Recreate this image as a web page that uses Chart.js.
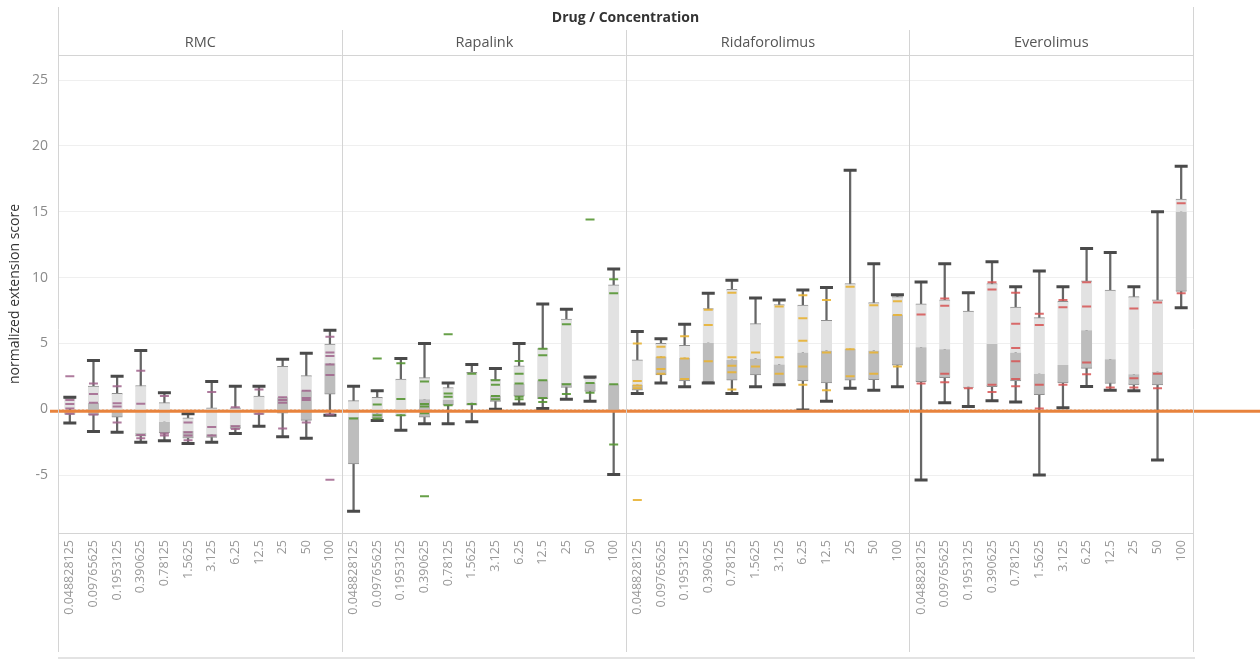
<!DOCTYPE html>
<html>
<head>
<meta charset="utf-8">
<script src="https://cdn.jsdelivr.net/npm/chart.js@4.4.1/dist/chart.umd.min.js"></script>
<style>
  html, body { margin: 0; padding: 0; background: #ffffff; }
  #wrap { width: 1260px; height: 660px; position: relative; }
</style>
</head>
<body>
<div id="wrap"><canvas id="chart" width="1260" height="660"></canvas></div>
<script>
// ---- categories -------------------------------------------------------------
const DRUGS = ['RMC', 'Rapalink', 'Ridaforolimus', 'Everolimus'];
const CONCENTRATIONS = ['0.048828125', '0.09765625', '0.1953125', '0.390625', '0.78125',
  '1.5625', '3.125', '6.25', '12.5', '25', '50', '100'];
const DRUG_COLORS = ['rgba(160,100,140,0.85)', 'rgba(86,150,52,0.9)',
  'rgba(232,178,52,0.9)', 'rgba(214,84,84,0.85)'];
const Y_TICKS = [-5, 0, 5, 10, 15, 20, 25];
const REFERENCE_LINE = -0.15;

// ---- box statistics per drug (whisker low, Q1, median, Q3, whisker high) ---
const RMC_LOW    = [-1.05, -1.7, -1.75, -2.5, -2.4, -2.6, -2.5, -1.85, -1.3, -2.1, -2.2, -0.45];
const RMC_Q1     = [-0.4, -0.45, -0.6, -2.05, -1.8, -2.2, -2.15, -1.45, -0.4, -0.3, -0.85, 1.15];
const RMC_MEDIAN = [0.0, 0.5, -0.05, -1.8, -0.95, -1.65, -1.9, -1.2, -0.25, 0.9, 1.45, 3.5];
const RMC_Q3     = [0.85, 1.75, 1.2, 1.8, 0.5, -0.65, 0.1, 0.1, 1.0, 3.25, 2.55, 4.95];
const RMC_HIGH   = [0.9, 3.7, 2.5, 4.45, 1.25, -0.35, 2.1, 1.75, 1.75, 3.8, 4.25, 6.0];
const RMC_POINTS = [[2.5, 0.7, 0.4, 0.05, -0.35], [1.95, 1.15, 0.5, -0.4], [1.75, 0.45, 0.2, -1.0],
  [2.93, 0.42, -1.95, -2.2], [1.0, -1.85, -2.0], [-1.0, -1.75, -2.0, -2.35], [1.3, -1.35, -2.0],
  [0.15, -1.3, -1.5], [1.5, -0.35], [0.9, 0.7, 0.5, -1.47], [1.4, 0.85, 0.7, -1.0],
  [5.5, 4.3, 4.05, 3.4, 2.6, -0.4, -5.35]];

const RAPALINK_LOW    = [-7.75, -0.85, -1.6, -1.1, -1.1, -0.95, 0.0, 0.4, 0.05, 0.75, 0.6, -4.95];
const RAPALINK_Q1     = [-4.15, -0.7, -0.5, -0.6, 0.3, 0.3, 0.6, 1.0, 0.8, 1.65, 1.35, -0.15];
const RAPALINK_MEDIAN = [-0.6, -0.3, -0.4, 0.75, 0.7, 0.5, 1.05, 1.95, 2.2, 2.0, 2.0, 1.9];
const RAPALINK_Q3     = [0.65, 0.9, 2.28, 2.4, 1.65, 2.8, 2.25, 3.3, 4.6, 6.85, 2.35, 9.45];
const RAPALINK_HIGH   = [1.75, 1.4, 3.85, 5.0, 2.0, 3.4, 3.1, 5.0, 8.0, 7.6, 2.45, 10.65];
const RAPALINK_POINTS = [[-0.7], [3.85, 0.35, -0.45, -0.7], [3.5, 0.78, -0.45],
  [2.1, 0.4, 0.2, -0.3, -6.6], [5.7, 1.2, 0.95, 0.3], [2.7, 0.4], [2.2, 1.85, 1.0, 0.75],
  [3.67, 2.7, 1.95, 0.95, 0.75], [4.6, 4.1, 2.2, 0.85, 0.55], [6.45, 1.9, 1.16],
  [14.4, 2.0, 1.26], [9.87, 8.8, 1.9, -2.67]];

const RIDAFOROLIMUS_LOW    = [1.2, 2.0, 1.7, 2.0, 1.2, 1.7, 1.85, -0.05, 0.6, 1.6, 1.45, 1.7];
const RIDAFOROLIMUS_Q1     = [1.45, 2.6, 2.15, 2.1, 2.2, 2.6, 1.9, 2.15, 2.0, 2.2, 2.25, 3.35];
const RIDAFOROLIMUS_MEDIAN = [1.85, 4.0, 3.9, 5.05, 3.75, 3.85, 3.4, 4.3, 4.45, 4.6, 4.45, 7.2];
const RIDAFOROLIMUS_Q3     = [3.75, 5.0, 4.85, 7.65, 9.1, 6.5, 7.95, 7.9, 6.75, 9.55, 8.1, 8.55];
const RIDAFOROLIMUS_HIGH   = [5.9, 5.35, 6.45, 8.8, 9.8, 8.45, 8.3, 9.05, 9.25, 18.15, 11.05, 8.7];
const RIDAFOROLIMUS_POINTS = [[5.0, 2.15, 1.8, 1.6, -6.9], [4.75, 3.95, 3.05, 2.7], [5.55, 3.85, 2.3],
  [7.55, 6.4, 3.65], [8.85, 3.95, 3.3, 2.8, 1.5], [4.3, 3.25], [7.8, 3.95, 2.7],
  [8.65, 6.9, 5.2, 3.25, 1.85], [8.3, 4.3, 1.45], [9.3, 4.55, 2.5], [7.9, 4.3, 2.7],
  [8.2, 7.15, 3.25]];

const EVEROLIMUS_LOW    = [-5.37, 0.5, 0.2, 0.65, 0.55, -5.0, 0.12, 1.72, 1.45, 1.4, -3.85, 7.7];
const EVEROLIMUS_Q1     = [2.1, 2.4, 1.65, 1.72, 2.15, 1.1, 2.0, 3.1, 1.95, 1.85, 1.85, 8.95];
const EVEROLIMUS_MEDIAN = [4.7, 4.55, 1.7, 4.95, 4.3, 2.7, 3.35, 6.0, 3.8, 2.65, 2.85, 15.0];
const EVEROLIMUS_Q3     = [8.0, 8.3, 7.45, 9.55, 7.75, 6.95, 8.2, 9.75, 9.05, 8.55, 8.3, 15.95];
const EVEROLIMUS_HIGH   = [9.67, 11.05, 8.85, 11.2, 9.3, 10.5, 9.3, 12.2, 11.9, 9.3, 15.0, 18.45];
const EVEROLIMUS_POINTS = [[7.2, 1.95], [8.4, 7.85, 2.7, 2.05], [1.6], [9.65, 9.1, 1.85, 1.3],
  [8.85, 6.5, 4.65, 3.65, 2.3, 1.75], [7.25, 6.4, 1.85, 0.05], [8.3, 7.75, 1.85],
  [9.65, 7.8, 3.55, 2.65], [1.65], [7.65, 2.35, 1.65], [8.1, 2.7, 1.6], [15.65, 8.8]];

// ---- flatten the four drug panels onto one category axis ---------------------
const LABELS = DRUGS.flatMap(() => CONCENTRATIONS);
const LOW    = [].concat(RMC_LOW, RAPALINK_LOW, RIDAFOROLIMUS_LOW, EVEROLIMUS_LOW);
const Q1     = [].concat(RMC_Q1, RAPALINK_Q1, RIDAFOROLIMUS_Q1, EVEROLIMUS_Q1);
const MEDIAN = [].concat(RMC_MEDIAN, RAPALINK_MEDIAN, RIDAFOROLIMUS_MEDIAN, EVEROLIMUS_MEDIAN);
const Q3     = [].concat(RMC_Q3, RAPALINK_Q3, RIDAFOROLIMUS_Q3, EVEROLIMUS_Q3);
const HIGH   = [].concat(RMC_HIGH, RAPALINK_HIGH, RIDAFOROLIMUS_HIGH, EVEROLIMUS_HIGH);
const POINTS = [].concat(RMC_POINTS, RAPALINK_POINTS, RIDAFOROLIMUS_POINTS, EVEROLIMUS_POINTS);
const PER_PANEL = CONCENTRATIONS.length;

const FONT = '"Open Sans", "DejaVu Sans", sans-serif';
const panelColor = (ctx) => DRUG_COLORS[Math.floor(ctx.dataIndex / PER_PANEL)];

const datasets = [];
// whisker stems
datasets.push({
  type: 'bar', data: LOW.map((v, i) => [v, HIGH[i]]),
  backgroundColor: '#666666', barThickness: 1.6, grouped: false, order: 6
});
// lower half of the box (Q1 to median)
datasets.push({
  type: 'bar', data: Q1.map((v, i) => [v, MEDIAN[i]]),
  backgroundColor: '#bdbdbd', borderColor: '#8f8f8f',
  borderWidth: { top: 0, right: 0, bottom: 1, left: 0 }, borderSkipped: false,
  barThickness: 11, grouped: false, order: 5
});
// upper half of the box (median to Q3)
datasets.push({
  type: 'bar', data: MEDIAN.map((v, i) => [v, Q3[i]]),
  backgroundColor: '#e2e2e2', borderColor: '#8f8f8f',
  borderWidth: { top: 1, right: 0, bottom: 0, left: 0 }, borderSkipped: false,
  barThickness: 11, grouped: false, order: 5
});
// whisker caps
[LOW, HIGH].forEach(arr => datasets.push({
  type: 'line', data: arr, showLine: false, pointStyle: 'line',
  pointRadius: 6.5, pointHoverRadius: 6.5, pointBorderWidth: 3,
  pointBorderColor: '#4a4a4a', order: 3
}));
// individual observations
const maxPts = Math.max(...POINTS.map(p => p.length));
for (let k = 0; k < maxPts; k++) {
  datasets.push({
    type: 'line', data: POINTS.map(p => (k < p.length ? p[k] : null)),
    showLine: false, pointStyle: 'line', pointRadius: 4.5, pointHoverRadius: 4.5,
    pointBorderWidth: 2, pointBorderColor: panelColor, order: 1
  });
}

// frame, panel headers and reference lines
const decor = {
  id: 'decor',
  beforeDatasetsDraw(chart) {
    const { ctx, chartArea: a, scales: { y } } = chart;
    ctx.save();
    const y0 = Math.round(y.getPixelForValue(0)) + 0.5;
    ctx.strokeStyle = 'rgba(235,165,120,0.55)';
    ctx.lineWidth = 1;
    ctx.setLineDash([2, 2]);
    ctx.beginPath(); ctx.moveTo(a.left, y0); ctx.lineTo(a.right, y0); ctx.stroke();
    ctx.restore();
  },
  afterDatasetsDraw(chart) {
    const { ctx, chartArea: a, scales: { y } } = chart;
    ctx.save();
    const yr = y.getPixelForValue(REFERENCE_LINE);
    ctx.strokeStyle = '#e8833d';
    ctx.lineWidth = 3;
    ctx.beginPath(); ctx.moveTo(a.left - 8, yr); ctx.lineTo(chart.width, yr); ctx.stroke();
    ctx.restore();
  },
  afterDraw(chart) {
    const { ctx, chartArea: a, scales: { x } } = chart;
    const bottom = 652;
    ctx.save();
    ctx.strokeStyle = '#d4d4d4';
    ctx.lineWidth = 1;
    const line = (x1, y1, x2, y2) => {
      ctx.beginPath(); ctx.moveTo(x1, y1); ctx.lineTo(x2, y2); ctx.stroke();
    };
    const L = Math.round(a.left) + 0.5, R = Math.round(a.right) + 0.5;
    line(L, 7, L, bottom);
    line(R, 7, R, bottom);
    line(a.left, Math.round(a.top) + 0.5, a.right, Math.round(a.top) + 0.5);
    line(a.left, Math.round(a.bottom) + 0.5, a.right, Math.round(a.bottom) + 0.5);
    const edges = [a.left];
    for (let p = 1; p < DRUGS.length; p++) {
      const i = p * PER_PANEL;
      const bx = Math.round((x.getPixelForValue(i - 1) + x.getPixelForValue(i)) / 2) + 0.5;
      edges.push(bx);
      line(bx, 30, bx, bottom);
    }
    edges.push(a.right);
    ctx.strokeStyle = '#e3e3e3';
    ctx.lineWidth = 2;
    line(a.left, 658, a.right + 2, 658);

    ctx.textAlign = 'center';
    ctx.textBaseline = 'middle';
    ctx.fillStyle = '#333333';
    ctx.font = 'bold 14px ' + FONT;
    ctx.fillText('Drug / Concentration', (a.left + a.right) / 2, 18);
    ctx.fillStyle = '#555555';
    ctx.font = '14.5px ' + FONT;
    DRUGS.forEach((d, p) => ctx.fillText(d, (edges[p] + edges[p + 1]) / 2, 43));
    ctx.restore();
  }
};

new Chart(document.getElementById('chart'), {
  type: 'bar',
  data: { labels: LABELS, datasets },
  options: {
    responsive: false,
    animation: false,
    devicePixelRatio: 1,
    layout: { padding: { top: 55, right: 67, bottom: 0, left: 0 } },
    plugins: { legend: { display: false }, tooltip: { enabled: false } },
    scales: {
      x: {
        type: 'category',
        offset: true,
        grid: { display: false, drawTicks: false },
        border: { display: false },
        ticks: {
          autoSkip: false, maxRotation: 90, minRotation: 90, padding: 7,
          color: '#9a9a9a', font: { family: FONT, size: 12.5 }
        },
        afterFit(scale) { scale.height = 127; }
      },
      y: {
        min: -9.4, max: 26.9,
        afterBuildTicks(scale) { scale.ticks = Y_TICKS.map(v => ({ value: v })); },
        grid: { color: '#efefef', drawTicks: false },
        border: { display: false },
        ticks: { color: '#8a8a8a', padding: 10, font: { family: FONT, size: 14 } },
        title: {
          display: true, text: 'normalized extension score', color: '#333333',
          font: { family: FONT, size: 14 }, padding: { top: 7, bottom: 0 }
        },
        afterFit(scale) { scale.width = 58; }
      }
    }
  },
  plugins: [decor]
});
</script>
</body>
</html>
